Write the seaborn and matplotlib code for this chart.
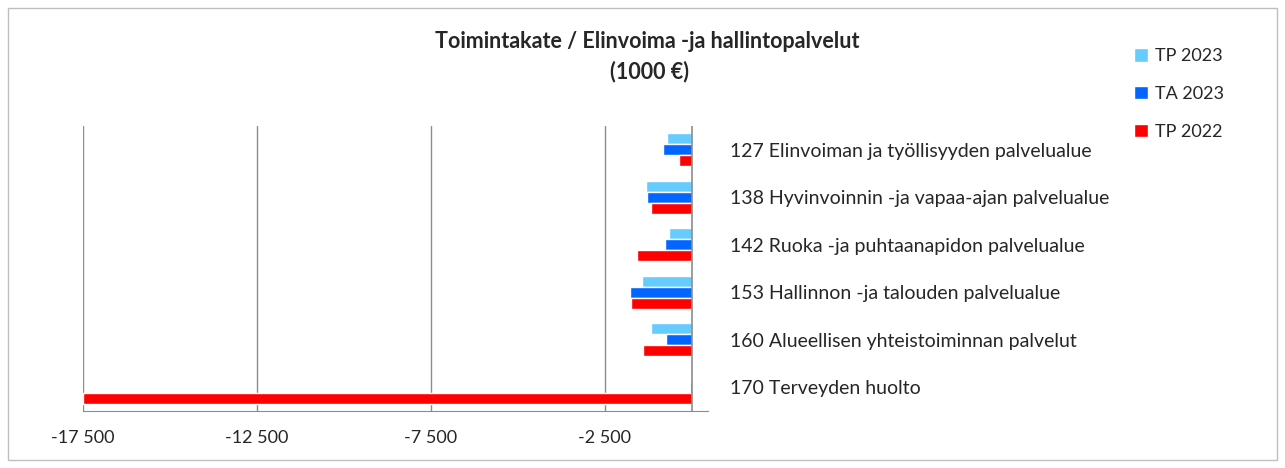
import numpy as np
import pandas as pd
import matplotlib.pyplot as plt
import seaborn as sns
from matplotlib.patches import Patch, Rectangle

categories = ['127 Elinvoiman ja työllisyyden palvelualue',
              '138 Hyvinvoinnin -ja vapaa-ajan palvelualue',
              '142 Ruoka -ja puhtaanapidon palvelualue',
              '153 Hallinnon -ja talouden palvelualue',
              '160 Alueellisen yhteistoiminnan palvelut',
              '170 Terveyden huolto']
series = ['TP 2023', 'TA 2023', 'TP 2022']
tp2023 = [-710, -1320, -660, -1430, -1180, -20]
ta2023 = [-830, -1270, -780, -1770, -730, -50]
tp2022 = [-350, -1180, -1580, -1750, -1390, -17500]
colors = ['#66CCFF', '#0066FF', '#FF0000']
xticks = [-17500, -12500, -7500, -2500]

df = pd.DataFrame({
    'kategoria': categories * 3,
    'sarja': np.repeat(series, len(categories)),
    'arvo': tp2023 + ta2023 + tp2022,
})

sns.set_style('white')
plt.rcParams['font.family'] = ['Lato', 'DejaVu Sans']

fig = plt.figure(figsize=(12.85, 4.68), dpi=100)
ax = fig.add_axes([83/1285, 1 - 411/468, (708 - 83)/1285, (411 - 126)/468])

sns.barplot(data=df, x='arvo', y='kategoria', hue='sarja', hue_order=series,
            order=categories, palette=colors, width=0.7, orient='h',
            saturation=1, ax=ax, legend=False)

ax.set_xlim(-17500, 470)
ax.set_xticks(xticks)
ax.set_xticklabels([f'{v:,}'.replace(',', ' ') for v in xticks], fontsize=13)
ax.tick_params(axis='x', length=0, pad=14)
ax.grid(False)
for v in xticks:
    ax.axvline(v, color='#8c8c8c', lw=1, zorder=0)
ax.axvline(0, color='#8c8c8c', lw=1.2, zorder=3)
for s in ['top', 'right', 'left']:
    ax.spines[s].set_visible(False)
ax.spines['bottom'].set_color('#8c8c8c')
ax.set_xlabel('')
ax.set_ylabel('')

ax.yaxis.tick_right()
ax.tick_params(axis='y', length=0, pad=16, labelsize=14)

fig.text(647/1285, 1 - 42/468, 'Toimintakate / Elinvoima -ja hallintopalvelut',
         ha='center', va='center', fontsize=15.5, fontweight='bold')
fig.text(650/1285, 1 - 72/468, '(1000 €)', ha='center', va='center',
         fontsize=15.5, fontweight='bold')

handles = [Patch(facecolor=c, label=s) for c, s in zip(colors, series)]
fig.legend(handles=handles, loc='upper left', bbox_to_anchor=(1118/1285, 1 - 32/468),
           frameon=False, fontsize=13, handlelength=0.75, handleheight=0.75,
           handletextpad=0.4, labelspacing=1.2)

fig.patches.append(Rectangle((8/1285, 8/468), 1 - 16/1285, 1 - 16/468,
                             transform=fig.transFigure, fill=False,
                             edgecolor='#bfbfbf', lw=1))

fig.savefig('out.png', dpi=100)
